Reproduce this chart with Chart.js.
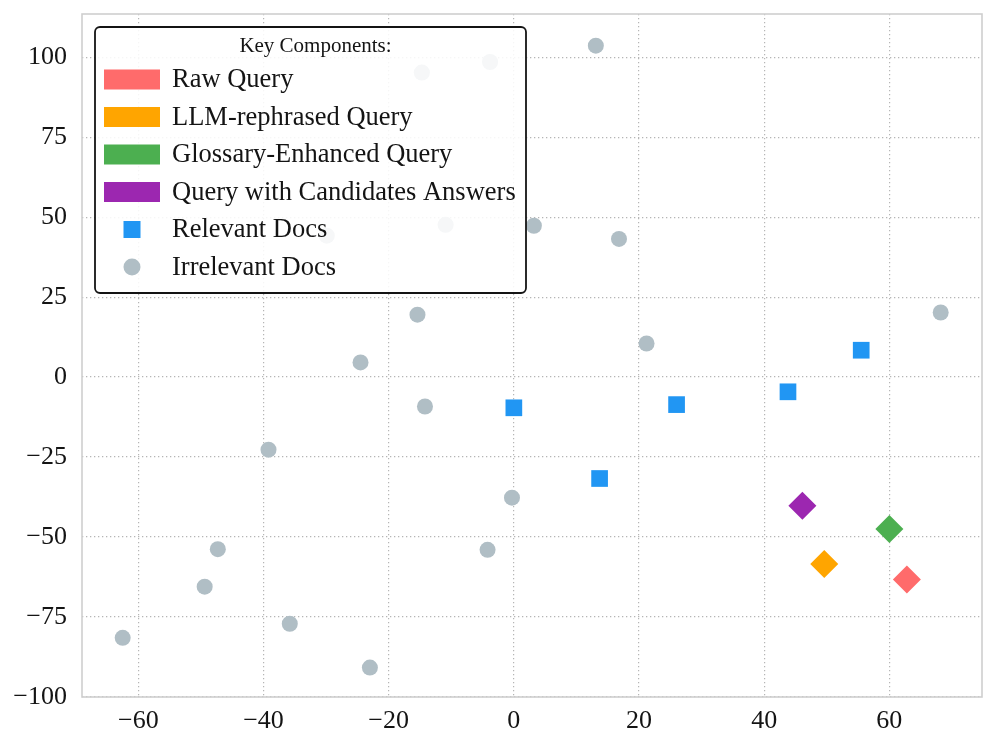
<!DOCTYPE html>
<html>
<head>
<meta charset="utf-8">
<script src="https://cdn.jsdelivr.net/npm/chart.js@4.4.1/dist/chart.umd.min.js"></script>
<style>
  html, body { margin: 0; padding: 0; background: #fff; }
  #wrap { width: 996px; height: 749px; }
</style>
</head>
<body>
<div id="wrap"><canvas id="chart"></canvas></div>
<script>
// --- data ---
const irrelevantX = [13.1, -14.7, -3.8, -10.9, -29.9, 3.2, 16.8, 68.2, -15.4, 21.2, -24.5, -14.2, -39.2, -0.3, -47.3, -4.2, -49.4, -35.8, -62.5, -23.0];
const irrelevantY = [103.6, 95.2, 98.5, 47.6, 44.2, 47.3, 43.2, 20.2, 19.5, 10.5, 4.6, -9.2, -22.7, -37.7, -53.8, -54.0, -65.5, -77.1, -81.5, -90.8];

const relevantX = [0.0, 26.0, 43.8, 55.5, 13.7];
const relevantY = [-9.6, -8.6, -4.6, 8.4, -31.7];

const queryNames = ["Raw Query", "LLM-rephrased Query", "Glossary-Enhanced Query", "Query with Candidates Answers"];
const queryX = [62.8, 49.6, 60.0, 46.1];
const queryY = [-63.3, -58.4, -47.5, -40.2];

const xTicks = [-60, -40, -20, 0, 20, 40, 60];
const yTicks = [-100, -75, -50, -25, 0, 25, 50, 75, 100];

const legendTitle = "Key Components:";
const docNames = ["Relevant Docs", "Irrelevant Docs"];

// colours
const queryColors = ["#FF6B6B", "#FFA500", "#4CAF50", "#9C27B0"];
const relevantColor = "#2196F3";
const irrelevantColor = "#B0BEC5";
const inkColor = "#141414";

const FONT = "'Liberation Serif', 'Times New Roman', serif";
const toPts = (xs, ys) => xs.map((x, i) => ({ x: x, y: ys[i] }));
const fmt = (v) => (v < 0 ? "\u2212" + Math.abs(v) : String(v));

const datasets = [
  {
    label: "Irrelevant Docs",
    data: toPts(irrelevantX, irrelevantY),
    pointStyle: "circle",
    pointRadius: 8,
    backgroundColor: irrelevantColor,
    borderWidth: 0,
  },
  {
    label: "Relevant Docs",
    data: toPts(relevantX, relevantY),
    pointStyle: "rect",
    pointRadius: 11.8,
    backgroundColor: relevantColor,
    borderWidth: 0,
  },
];
queryNames.forEach((name, i) => {
  datasets.push({
    label: name,
    data: [{ x: queryX[i], y: queryY[i] }],
    pointStyle: "rectRot",
    pointRadius: 14,
    backgroundColor: queryColors[i],
    borderWidth: 0,
  });
});

// box round the plot area
const frame = {
  id: "frame",
  afterDatasetsDraw(chart) {
    const { ctx, chartArea: a } = chart;
    ctx.save();
    ctx.strokeStyle = "#cfcfcf";
    ctx.lineWidth = 1.6;
    ctx.strokeRect(a.left, a.top, a.right - a.left, a.bottom - a.top);
    ctx.restore();
  },
};

// legend box drawn by hand, like the figure
const legendBox = {
  id: "legendBox",
  afterDraw(chart) {
    const ctx = chart.ctx;
    const bx = 95, by = 27, bw = 431, bh = 266;
    ctx.save();
    ctx.beginPath();
    ctx.roundRect(bx, by, bw, bh, 5);
    ctx.fillStyle = "rgba(255,255,255,0.88)";
    ctx.fill();
    ctx.lineWidth = 1.8;
    ctx.strokeStyle = inkColor;
    ctx.stroke();

    ctx.fillStyle = inkColor;
    ctx.textBaseline = "middle";
    ctx.textAlign = "center";
    ctx.font = "21px " + FONT;
    ctx.fillText(legendTitle, 315.5, 46);

    ctx.textAlign = "left";
    ctx.font = "26.5px " + FONT;
    const rowY = [79.5, 117, 154.5, 192, 229.5, 267];
    queryNames.forEach((name, i) => {
      ctx.fillStyle = queryColors[i];
      ctx.fillRect(104, rowY[i] - 10, 56, 20);
      ctx.fillStyle = inkColor;
      ctx.fillText(name, 172, rowY[i] + 1);
    });
    ctx.fillStyle = relevantColor;
    ctx.fillRect(132 - 8.5, rowY[4] - 8.5, 17, 17);
    ctx.fillStyle = inkColor;
    ctx.fillText(docNames[0], 172, rowY[4] + 1);

    ctx.fillStyle = irrelevantColor;
    ctx.beginPath();
    ctx.arc(132, rowY[5], 8.5, 0, Math.PI * 2);
    ctx.fill();
    ctx.fillStyle = inkColor;
    ctx.fillText(docNames[1], 172, rowY[5] + 1);
    ctx.restore();
  },
};

const gridStyle = {
  color: "#b5b5b5",
  lineWidth: 1.2,
  drawTicks: false,
};

new Chart(document.getElementById("chart"), {
  type: "scatter",
  data: { datasets: datasets },
  options: {
    responsive: true,
    maintainAspectRatio: false,
    animation: false,
    layout: { padding: { top: 13, right: 14, left: 0, bottom: 0 } },
    plugins: {
      legend: { display: false },
      tooltip: { enabled: false },
    },
    scales: {
      x: {
        type: "linear",
        min: -69,
        max: 74.8,
        afterBuildTicks: (s) => { s.ticks = xTicks.map((v) => ({ value: v })); },
        afterFit: (s) => { s.height = 52; s.paddingLeft = 0; s.paddingRight = 0; },
        grid: gridStyle,
        border: { display: false, dash: [1.3, 2.7] },
        ticks: {
          padding: 9,
          color: inkColor,
          font: { family: FONT, size: 26 },
          callback: (v) => fmt(v),
        },
      },
      y: {
        type: "linear",
        min: -100,
        max: 113.5,
        afterBuildTicks: (s) => { s.ticks = yTicks.map((v) => ({ value: v })); },
        afterFit: (s) => { s.width = 82; s.paddingTop = 0; s.paddingBottom = 0; },
        grid: gridStyle,
        border: { display: false, dash: [1.3, 2.7] },
        ticks: {
          padding: 15,
          color: inkColor,
          font: { family: FONT, size: 26 },
          callback: (v) => fmt(v),
        },
      },
    },
  },
  plugins: [frame, legendBox],
});
</script>
</body>
</html>
